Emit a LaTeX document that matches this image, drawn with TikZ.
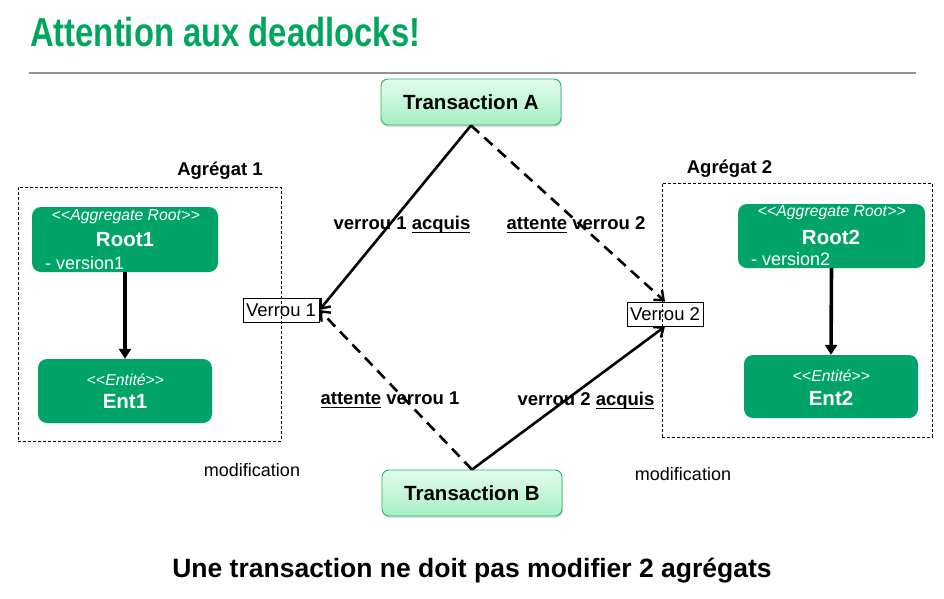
\documentclass[tikz,border=0pt]{standalone}
\usepackage{fontspec}
\setmainfont{Liberation Sans}
\newfontfamily\titlefont[FakeStretch=0.81]{Liberation Sans}
\usetikzlibrary{arrows.meta,shadows}
\definecolor{boxgreen}{RGB}{0,164,104}
\definecolor{titlegreen}{RGB}{0,166,94}
\definecolor{txtop}{RGB}{226,251,237}
\definecolor{txbot}{RGB}{166,240,196}
\definecolor{txborder}{RGB}{40,178,110}
\newsavebox\ulbox
\newcommand\myul[1]{\sbox\ulbox{#1}\rlap{\rule[-3.4pt]{\wd\ulbox}{1.3pt}}\usebox\ulbox}
\tikzset{
  greenbox/.style={draw=none, fill=boxgreen, rounded corners=9pt, inner sep=0pt},
  txbox/.style={draw=txborder, line width=0.9pt, rounded corners=7pt, top color=txtop, bottom color=txbot,
     minimum width=180pt, minimum height=46pt, inner sep=0pt,
     drop shadow={opacity=0.25, shadow xshift=1pt, shadow yshift=-2pt},
     font=\fontsize{20.5}{24}\selectfont\bfseries},
  aggbox/.style={draw, dash pattern=on 3pt off 2pt, line width=0.8pt},
  lockbox/.style={draw, line width=0.9pt, inner sep=2pt, minimum height=24pt, font=\fontsize{18.5}{20}\selectfont},
  stereo/.style={text=white, font=\fontsize{15.8}{17}\selectfont, inner sep=0pt},
  cname/.style={text=white, font=\fontsize{20.5}{24}\selectfont\bfseries, inner sep=0pt},
  attr/.style={text=white, font=\fontsize{18}{20}\selectfont, inner sep=0pt},
  lbl/.style={font=\fontsize{18.5}{20}\selectfont\bfseries, inner sep=0pt},
  plain/.style={font=\fontsize{18}{20}\selectfont, inner sep=0pt},
  solidarrow/.style={line width=2.6pt, -{Straight Barb[length=8pt,width=13pt,line width=2.4pt]}},
  dasharrow/.style={solidarrow, dash pattern=on 11pt off 7pt},
  comp/.style={line width=3.6pt, -{Triangle[length=10pt,width=12pt]}}
}
\newcommand\lt{<\kern0pt<}
\newcommand\gt{>\kern0pt>}
\begin{document}
\begin{tikzpicture}[x=1pt,y=-1pt]
\useasboundingbox (0,0) rectangle (944,598);
\fill[white] (0,0) rectangle (944,598);

% title
\node[anchor=base west, inner sep=0pt, text=titlegreen, font=\titlefont\fontsize{40.5}{44}\selectfont\bfseries] (title) at (30,46) {Attention aux deadlocks!};
\coordinate (hl) at (29,73);
\coordinate (hr) at (916,73);
\draw[gray!85, line width=1.2pt] (hl) -- (hr);

% aggregate boxes
\node[aggbox, minimum width=263pt, minimum height=254pt, inner sep=0pt] (agg1) at (149.5,314) {};
\node[aggbox, minimum width=270pt, minimum height=254pt, inner sep=0pt] (agg2) at (797,310) {};
\node[lbl] (agg1lbl) at (220,171) {Agrégat 1};
\node[lbl] (agg2lbl) at (729.5,169) {Agrégat 2};

% Root1 / Ent1
\node[greenbox, minimum width=186pt, minimum height=65pt] (root1) at (125,239.5) {};
\node[stereo] (root1s) at (126,217) {\lt\textit{Aggregate Root}\gt};
\node[cname] (root1n) at (125,240) {Root1};
\node[attr, anchor=west] (root1a) at (45,263) {- version1};
\node[greenbox, minimum width=174pt, minimum height=64pt] (ent1) at (125,391) {};
\node[stereo] (ent1s) at (125.5,380) {\lt\textit{Entité}\gt};
\node[cname] (ent1n) at (125,402) {Ent1};
\draw[comp] (root1.south) -- (ent1.north);

% Root2 / Ent2
\node[greenbox, minimum width=187pt, minimum height=64pt] (root2) at (831.5,236) {};
\node[stereo] (root2s) at (832,213) {\lt\textit{Aggregate Root}\gt};
\node[cname] (root2n) at (831,237) {Root2};
\node[attr, anchor=west] (root2a) at (751,259) {- version2};
\node[greenbox, minimum width=174pt, minimum height=63pt] (ent2) at (831,386.5) {};
\node[stereo] (ent2s) at (831.5,376) {\lt\textit{Entité}\gt};
\node[cname] (ent2n) at (831,398) {Ent2};
\draw[comp] (root2.south) -- (ent2.north);

% transactions
\node[txbox] (ta) at (471,102) {Transaction A};
\node[txbox] (tb) at (472,493) {Transaction B};

% locks
\node[lockbox, minimum width=76pt] (v1) at (281,310) {Verrou 1};
\node[lockbox, minimum width=76pt] (v2) at (665,314) {Verrou 2};

% arrows
\draw[solidarrow] (ta.south) -- (v1.east);
\draw[dasharrow] (ta.south) -- (v2.north);
\draw[dasharrow] (tb.north) -- (v1.east);
\draw[solidarrow] (tb.north) -- (v2.south);

% labels
\node[lbl] (l1) at (402,225) {verrou 1 \myul{acquis}};
\node[lbl] (l2) at (576,225) {\myul{attente} verrou 2};
\node[lbl] (l3) at (390,400) {\myul{attente} verrou 1};
\node[lbl] (l4) at (586,401) {verrou 2 \myul{acquis}};
\node[plain] (m1) at (252,470) {modification};
\node[plain] (m2) at (683,474) {modification};

% footer
\node[font=\fontsize{26.5}{30}\selectfont\bfseries, inner sep=0pt] (foot) at (472,571) {Une transaction ne doit pas modifier 2 agrégats};
\end{tikzpicture}
\end{document}
